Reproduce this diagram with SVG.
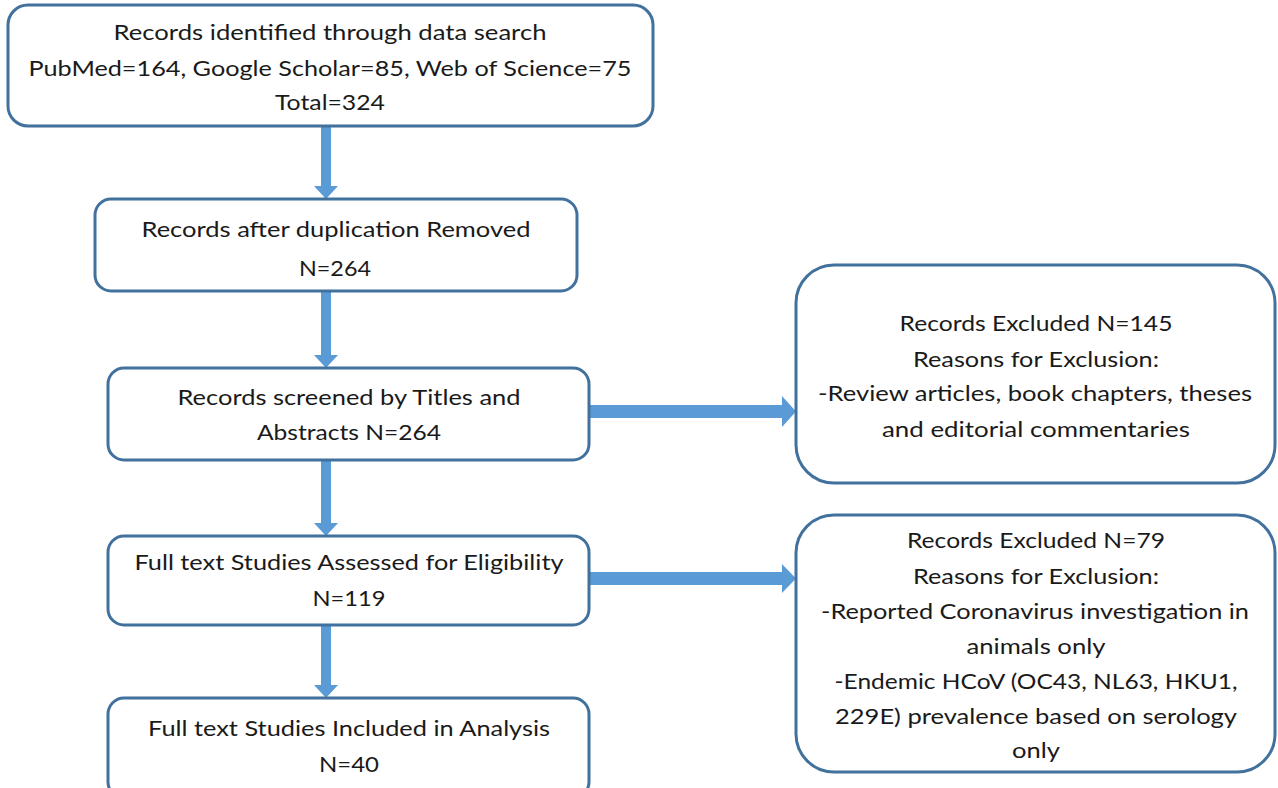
<svg xmlns="http://www.w3.org/2000/svg" width="1278" height="788" viewBox="0 0 1278 788">
<style>
.box{fill:#fff;stroke:#41719C;stroke-width:3}
.arr{fill:#5B9BD5}
text{font-family:Lato,"Open Sans","Liberation Sans",sans-serif;font-size:22px;fill:#1a1a1a;text-anchor:middle}
</style>
<rect width="1278" height="788" fill="#fff"/>
<g id="connectors">
<polygon class="arr" points="321,126 331,126 331,186 338,186 326,199 314,186 321,186"/>
<polygon class="arr" points="321,291 331,291 331,355 338,355 326,368 314,355 321,355"/>
<polygon class="arr" points="321,460 331,460 331,523 338,523 326,536 314,523 321,523"/>
<polygon class="arr" points="321,625 331,625 331,685 338,685 326,698 314,685 321,685"/>
<polygon class="arr" points="589,405 782,405 782,396 796,411.5 782,427 782,418 589,418"/>
<polygon class="arr" points="589,572 782,572 782,564 796,578.5 782,593 782,585 589,585"/>
</g>
<g id="n1">
<rect class="box" x="8" y="5" width="645" height="121" rx="20"/>
<text x="330" y="40" textLength="433" lengthAdjust="spacingAndGlyphs">Records identified through data search</text>
<text x="330" y="76" textLength="603" lengthAdjust="spacingAndGlyphs">PubMed=164, Google Scholar=85, Web of Science=75</text>
<text x="330" y="110" textLength="110" lengthAdjust="spacingAndGlyphs">Total=324</text>
</g>
<g id="n2">
<rect class="box" x="95" y="199" width="482" height="92" rx="16"/>
<text x="336" y="237" textLength="389" lengthAdjust="spacingAndGlyphs">Records after duplication Removed</text>
<text x="335" y="276" textLength="72" lengthAdjust="spacingAndGlyphs">N=264</text>
</g>
<g id="n3">
<rect class="box" x="108" y="368" width="481" height="92" rx="16"/>
<text x="349" y="405" textLength="343" lengthAdjust="spacingAndGlyphs">Records screened by Titles and</text>
<text x="349" y="440" textLength="184" lengthAdjust="spacingAndGlyphs">Abstracts N=264</text>
</g>
<g id="n4">
<rect class="box" x="108" y="536" width="481" height="89" rx="16"/>
<text x="349" y="570" textLength="429" lengthAdjust="spacingAndGlyphs">Full text Studies Assessed for Eligibility</text>
<text x="349" y="606" textLength="73" lengthAdjust="spacingAndGlyphs">N=119</text>
</g>
<g id="n5">
<rect class="box" x="108" y="698" width="481" height="100" rx="16"/>
<text x="349" y="736" textLength="402" lengthAdjust="spacingAndGlyphs">Full text Studies Included in Analysis</text>
<text x="349" y="772" textLength="60" lengthAdjust="spacingAndGlyphs">N=40</text>
</g>
<g id="n6">
<rect class="box" x="796" y="265" width="479" height="218" rx="38"/>
<text x="1036" y="331" textLength="273" lengthAdjust="spacingAndGlyphs">Records Excluded N=145</text>
<text x="1036" y="367" textLength="246" lengthAdjust="spacingAndGlyphs">Reasons for Exclusion:</text>
<text x="1035" y="401" textLength="434" lengthAdjust="spacingAndGlyphs">-Review articles, book chapters, theses</text>
<text x="1036" y="437" textLength="308" lengthAdjust="spacingAndGlyphs">and editorial commentaries</text>
</g>
<g id="n7">
<rect class="box" x="796" y="515" width="479" height="257" rx="38"/>
<text x="1036" y="548" textLength="258" lengthAdjust="spacingAndGlyphs">Records Excluded N=79</text>
<text x="1036" y="584" textLength="246" lengthAdjust="spacingAndGlyphs">Reasons for Exclusion:</text>
<text x="1035" y="619" textLength="428" lengthAdjust="spacingAndGlyphs">-Reported Coronavirus investigation in</text>
<text x="1036" y="654" textLength="139" lengthAdjust="spacingAndGlyphs">animals only</text>
<text x="1036" y="689" textLength="403" lengthAdjust="spacingAndGlyphs">-Endemic HCoV (OC43, NL63, HKU1,</text>
<text x="1036" y="724" textLength="402" lengthAdjust="spacingAndGlyphs">229E) prevalence based on serology</text>
<text x="1036" y="758" textLength="48" lengthAdjust="spacingAndGlyphs">only</text>
</g>
</svg>
